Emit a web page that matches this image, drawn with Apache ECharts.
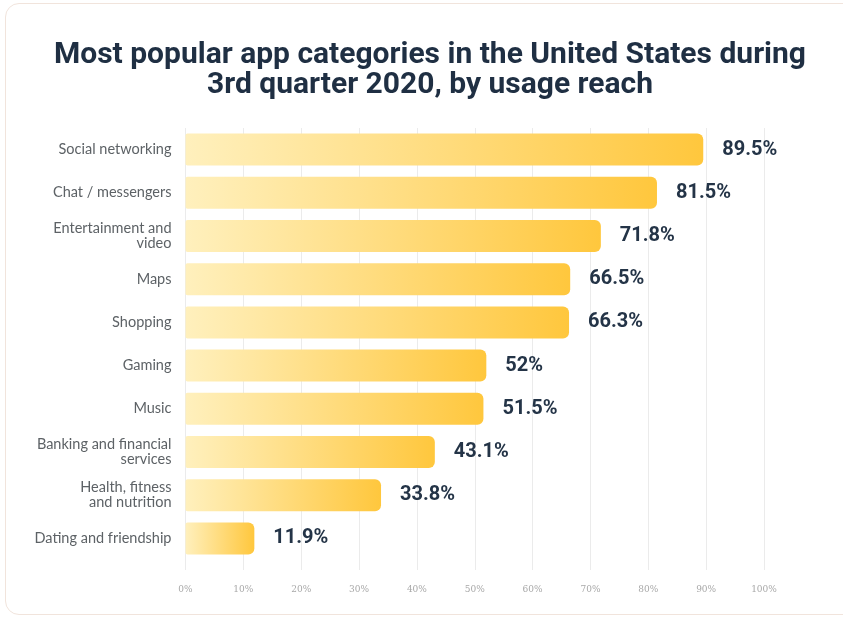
<!DOCTYPE html>
<html>
<head>
<meta charset="utf-8">
<script src="https://cdn.jsdelivr.net/npm/echarts@6/dist/echarts.min.js"></script>
<style>
  html, body { margin: 0; padding: 0; background: #ffffff; }
  #card { position: absolute; left: 5px; top: 3px; width: 900px; height: 610px;
          border: 1px solid #f1e4dc; border-radius: 14px; background: #fff; }
  #chart { position: absolute; left: 0; top: 0; width: 843px; height: 619px; }
</style>
</head>
<body>
<div id="card"></div>
<div id="chart"></div>
<script>
const titleText = 'Most popular app categories in the United States during\n3rd quarter 2020, by usage reach';
const categories = [
  'Social networking',
  'Chat / messengers',
  'Entertainment and\nvideo',
  'Maps',
  'Shopping',
  'Gaming',
  'Music',
  'Banking and financial\nservices',
  'Health, fitness\nand nutrition',
  'Dating and friendship'
];
const values = [89.5, 81.5, 71.8, 66.5, 66.3, 52, 51.5, 43.1, 33.8, 11.9];
const xTicks = [0, 10, 20, 30, 40, 50, 60, 70, 80, 90, 100];

const chart = echarts.init(document.getElementById('chart'), null, { renderer: 'canvas' });
chart.setOption({
  backgroundColor: 'transparent',
  animation: false,
  title: {
    text: titleText,
    left: 425,
    textAlign: 'center',
    top: 35,
    textStyle: {
      fontFamily: 'Roboto',
      fontWeight: 'bold',
      fontSize: 30,
      lineHeight: 30,
      color: '#1f2f43'
    }
  },
  grid: { left: 185.5, right: 79, top: 128, bottom: 59, containLabel: false },
  xAxis: {
    type: 'value',
    min: xTicks[0],
    max: xTicks[xTicks.length - 1],
    interval: 10,
    axisLine: { show: false },
    axisTick: { show: true, length: 10, lineStyle: { color: '#ebebeb' } },
    splitLine: { show: true, lineStyle: { color: '#ebebeb', width: 1 } },
    axisLabel: {
      margin: 25,
      fontSize: 9,
      color: '#a8a8a8',
      fontFamily: 'DejaVu Serif',
      formatter: v => v + '%'
    }
  },
  yAxis: {
    type: 'category',
    inverse: true,
    data: categories,
    axisLine: { show: false },
    axisTick: { show: false },
    axisLabel: {
      margin: 14,
      fontSize: 14.5,
      lineHeight: 15,
      color: '#5d6266',
      fontFamily: 'Lato',
      align: 'right'
    }
  },
  series: [{
    type: 'bar',
    data: values,
    barWidth: 32,
    itemStyle: {
      borderRadius: [2, 6, 6, 2],
      color: new echarts.graphic.LinearGradient(0, 0, 1, 0, [
        { offset: 0, color: '#fff0bd' },
        { offset: 1, color: '#ffc73d' }
      ])
    },
    label: {
      show: true,
      position: 'right',
      distance: 19,
      fontFamily: 'Roboto',
      fontWeight: 'bold',
      fontSize: 20,
      color: '#243447',
      formatter: p => p.value + '%'
    }
  }]
});
</script>
</body>
</html>
